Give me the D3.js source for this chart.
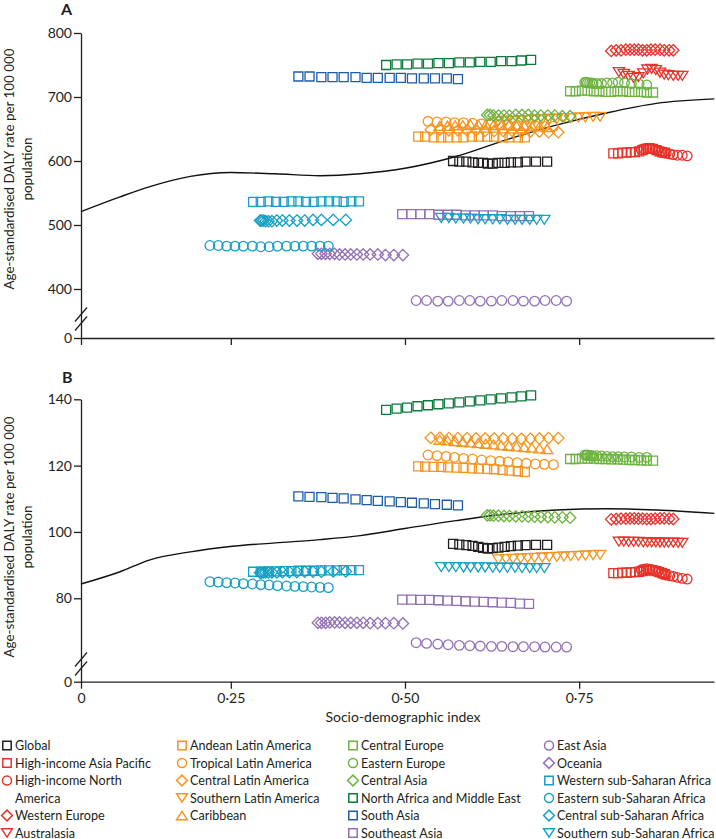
<!DOCTYPE html>
<html>
<head>
<meta charset="utf-8">
<script src="https://cdn.jsdelivr.net/npm/d3@7"></script>
<style>
  html, body { margin: 0; padding: 0; background: #fff; }
  svg { display: block; }
  text { font-family: Lato, "Open Sans", sans-serif; fill: #231f20; }
</style>
</head>
<body>
<svg id="chart" width="716" height="839"></svg>
<script>
// ---------------- DATA ----------------
const regionNames = [
  "Global", "High-income Asia Pacific", "High-income North America", "Western Europe", "Australasia",
  "Andean Latin America", "Tropical Latin America", "Central Latin America", "Southern Latin America", "Caribbean",
  "Central Europe", "Eastern Europe", "Central Asia", "North Africa and Middle East", "South Asia", "Southeast Asia",
  "East Asia", "Oceania", "Western sub-Saharan Africa", "Eastern sub-Saharan Africa", "Central sub-Saharan Africa", "Southern sub-Saharan Africa"
];

// Socio-demographic index per region (one value per plotted year)
const sdiValues = [
  [0.569,0.578,0.588,0.597,0.605,0.612,0.619,0.626,0.634,0.643,0.652,0.662,0.673,0.688,0.704],
  [0.799,0.806,0.812,0.818,0.824,0.830,0.836,0.841,0.846,0.851,0.856,0.861,0.865,0.869,0.873],
  [0.839,0.843,0.847,0.851,0.855,0.859,0.863,0.867,0.871,0.875,0.880,0.885,0.891,0.898,0.905],
  [0.796,0.803,0.810,0.817,0.823,0.829,0.835,0.841,0.847,0.853,0.859,0.866,0.872,0.879,0.885],
  [0.807,0.814,0.821,0.828,0.835,0.842,0.848,0.854,0.860,0.866,0.872,0.878,0.885,0.892,0.898],
  [0.519,0.529,0.541,0.552,0.562,0.574,0.584,0.596,0.606,0.618,0.628,0.640,0.650,0.662,0.672],
  [0.533,0.546,0.559,0.571,0.584,0.597,0.610,0.623,0.636,0.648,0.661,0.674,0.687,0.700,0.713],
  [0.537,0.550,0.563,0.576,0.589,0.602,0.615,0.628,0.641,0.654,0.667,0.680,0.693,0.706,0.720],
  [0.634,0.645,0.655,0.666,0.676,0.686,0.697,0.707,0.718,0.728,0.738,0.749,0.759,0.770,0.780],
  [0.550,0.561,0.572,0.583,0.594,0.605,0.616,0.627,0.638,0.649,0.660,0.671,0.682,0.693,0.704],
  [0.737,0.745,0.754,0.762,0.771,0.779,0.788,0.796,0.805,0.813,0.822,0.830,0.839,0.847,0.856],
  [0.770,0.765,0.760,0.758,0.762,0.768,0.775,0.782,0.790,0.798,0.806,0.815,0.825,0.836,0.847],
  [0.618,0.622,0.627,0.634,0.642,0.650,0.659,0.668,0.677,0.686,0.695,0.705,0.715,0.726,0.737],
  [0.473,0.488,0.503,0.518,0.533,0.548,0.563,0.578,0.593,0.608,0.623,0.638,0.653,0.667,0.681],
  [0.347,0.363,0.380,0.396,0.412,0.429,0.445,0.461,0.478,0.494,0.510,0.527,0.543,0.560,0.576],
  [0.496,0.509,0.522,0.535,0.548,0.561,0.574,0.587,0.600,0.613,0.626,0.639,0.652,0.665,0.678],
  [0.516,0.531,0.547,0.562,0.578,0.593,0.608,0.624,0.639,0.655,0.670,0.686,0.701,0.717,0.732],
  [0.375,0.380,0.386,0.392,0.399,0.406,0.414,0.422,0.431,0.440,0.450,0.461,0.472,0.484,0.497],
  [0.282,0.293,0.304,0.315,0.326,0.337,0.347,0.358,0.369,0.380,0.391,0.402,0.412,0.423,0.434],
  [0.220,0.232,0.244,0.256,0.268,0.281,0.293,0.305,0.317,0.330,0.342,0.354,0.366,0.378,0.390],
  [0.292,0.294,0.297,0.300,0.304,0.309,0.316,0.324,0.334,0.345,0.356,0.368,0.380,0.397,0.415],
  [0.552,0.563,0.573,0.584,0.594,0.605,0.615,0.626,0.636,0.647,0.658,0.668,0.679,0.689,0.700]
];

// Panel A: age-standardised DALY rate per 100 000
const dalyRateA = [
  [600,599,599,598,597,597,596,596,597,597,598,598,599,599,599],
  [612,612,613,613,614,614,615,617,619,620,619,617,615,614,613],
  [618,619,620,620,619,618,616,614,613,612,611,610,609,609,608],
  [772,773,773,774,774,774,774,773,773,774,774,774,773,773,773],
  [739,736,733,730,731,737,743,744,742,738,735,734,733,733,733],
  [638,638,637,637,637,637,637,638,638,638,638,637,637,637,637],
  [662,661,661,660,660,659,658,657,657,656,656,655,655,654,654],
  [649,649,648,648,648,648,647,647,647,647,646,646,646,645,645],
  [662,663,663,664,664,665,665,666,666,667,667,668,668,669,669],
  [655,655,656,656,657,657,657,656,656,656,655,655,654,654,653],
  [709,709,710,710,709,709,708,708,709,709,708,708,708,707,707],
  [721,722,723,723,722,722,721,721,722,722,723,722,721,720,719],
  [672,672,671,671,671,671,672,672,672,671,671,671,671,670,670],
  [750,751,751,752,752,753,753,754,754,755,755,756,756,757,758],
  [732,732,731,731,731,731,730,730,730,730,729,729,729,729,728],
  [517,517,517,517,516,516,516,515,515,515,515,514,514,514,514],
  [382,382,381,381,382,382,381,381,382,382,381,381,382,382,381],
  [455,455,455,455,455,454,454,454,454,454,454,454,453,453,453],
  [536,536,537,536,536,537,537,536,536,537,537,537,536,537,537],
  [468,468,467,467,467,467,466,466,467,467,467,467,467,467,467],
  [507,507,507,506,506,506,507,507,507,507,507,508,508,508,508],
  [511,511,510,510,510,509,509,509,509,508,508,508,508,508,508]
];

// Panel B: age-standardised DALY rate per 100 000
const dalyRateB = [
  [96.4,96.2,96.0,95.8,95.5,95.2,95.0,95.1,95.3,95.5,95.7,95.9,96.0,96.1,96.1],
  [87.6,87.6,87.7,87.7,87.8,87.9,88.0,88.2,88.4,88.5,88.4,88.2,87.9,87.6,87.3],
  [88.6,88.8,88.9,88.8,88.6,88.3,88.0,87.6,87.2,87.0,86.8,86.6,86.3,86.0,85.8],
  [103.8,103.9,104.0,104.0,104.1,104.1,104.0,104.0,103.9,103.9,104.0,104.1,104.1,104.0,103.9],
  [97.1,97.1,97.0,97.0,97.0,96.9,96.9,96.9,96.9,96.8,96.8,96.8,96.8,96.7,96.7],
  [119.8,119.7,119.6,119.6,119.5,119.4,119.3,119.2,119.1,119.0,118.9,118.7,118.5,118.3,118.1],
  [123.2,123.0,122.8,122.5,122.2,122.0,121.7,121.5,121.3,121.1,120.9,120.7,120.5,120.4,120.3],
  [128.4,128.4,128.3,128.3,128.3,128.2,128.2,128.2,128.2,128.1,128.1,128.1,128.2,128.3,128.3],
  [91.7,91.8,91.9,92.0,92.1,92.2,92.3,92.4,92.5,92.6,92.7,92.8,92.9,93.0,93.1],
  [127.8,127.6,127.4,127.2,127.0,126.8,126.6,126.4,126.2,126.0,125.8,125.6,125.4,125.2,125.0],
  [122.0,122.0,122.1,122.1,122.1,122.0,122.0,121.9,121.9,121.8,121.7,121.7,121.6,121.5,121.5],
  [122.8,123.0,123.1,123.2,123.2,123.1,123.0,122.9,122.8,122.7,122.7,122.6,122.6,122.5,122.5],
  [105.0,105.0,104.9,104.9,104.8,104.8,104.7,104.7,104.6,104.6,104.5,104.5,104.4,104.4,104.3],
  [136.8,137.2,137.5,137.9,138.2,138.5,138.8,139.1,139.4,139.7,140.0,140.3,140.6,140.9,141.2],
  [110.7,110.6,110.5,110.3,110.1,109.8,109.6,109.4,109.2,109.0,108.8,108.6,108.4,108.2,108.0],
  [79.6,79.6,79.5,79.5,79.4,79.3,79.2,79.1,79.0,78.9,78.8,78.7,78.6,78.4,78.3],
  [66.6,66.4,66.2,66.0,65.8,65.7,65.6,65.5,65.5,65.4,65.4,65.4,65.3,65.3,65.3],
  [72.6,72.6,72.6,72.7,72.7,72.7,72.6,72.6,72.6,72.6,72.5,72.5,72.5,72.5,72.4],
  [88.0,88.0,88.1,88.1,88.2,88.2,88.3,88.3,88.3,88.4,88.4,88.4,88.5,88.5,88.5],
  [85.0,84.9,84.7,84.6,84.4,84.3,84.1,84.0,83.8,83.7,83.6,83.5,83.4,83.3,83.2],
  [87.7,87.7,87.7,87.8,87.8,87.8,87.8,87.9,87.9,87.9,88.0,88.0,88.0,88.1,88.1],
  [89.4,89.4,89.4,89.3,89.3,89.3,89.3,89.2,89.2,89.2,89.2,89.1,89.1,89.1,89.1]
];

// Expected values by SDI (black curves)
const curveSdi = [0.035,0.091,0.134,0.192,0.249,0.314,0.378,0.436,0.502,0.573,0.645,0.717,0.789,0.861,0.944];
const curveA   = [521,544,560,576,582,580,577,580,589,607,633,656,675,690,697];
const curveB   = [84.3,88.0,91.6,94.0,95.6,96.7,97.7,98.9,101.1,103.4,105.4,106.6,107.0,106.6,105.6];

const yTicksA = [0, 400, 500, 600, 700, 800];
const yTicksB = [0, 80, 100, 120, 140];
const xTicks = [0.035, 0.25, 0.5, 0.75];
const xTickLabels = ["0", "0·25", "0·50", "0·75"];

// ---------------- STYLE ----------------
const C = { black:"#231f20", red:"#e8322a", orange:"#f7941d", lgreen:"#6cb33f",
            dgreen:"#0b7a3b", blue:"#1d5ca8", purple:"#9270b5", teal:"#15a0c6" };
const regionColor = [C.black, C.red, C.red, C.red, C.red,
  C.orange, C.orange, C.orange, C.orange, C.orange,
  C.lgreen, C.lgreen, C.lgreen, C.dgreen, C.blue, C.purple,
  C.purple, C.purple, C.teal, C.teal, C.teal, C.teal];
const regionShape = ["square","square","circle","diamond","tdown",
  "square","circle","diamond","tdown","tup",
  "square","circle","diamond","square","square","square",
  "circle","diamond","square","circle","diamond","tdown"];

const shapeTypes = {
  square: { draw(ctx, s) { const h = s/2; ctx.rect(-h, -h, s, s); } },
  circle: { draw(ctx, s) { const r = s/2 + 0.3; ctx.moveTo(r, 0); ctx.arc(0, 0, r, 0, 2*Math.PI); } },
  diamond:{ draw(ctx, s) { const d = s/2 + 1.2; ctx.moveTo(0,-d); ctx.lineTo(d,0); ctx.lineTo(0,d); ctx.lineTo(-d,0); ctx.closePath(); } },
  tdown:  { draw(ctx, s) { const w = s/2 + 1.2, h = s/2; ctx.moveTo(-w,-h); ctx.lineTo(w,-h); ctx.lineTo(0,h); ctx.closePath(); } },
  tup:    { draw(ctx, s) { const w = s/2 + 1.2, h = s/2; ctx.moveTo(-w,h); ctx.lineTo(w,h); ctx.lineTo(0,-h); ctx.closePath(); } }
};
const markerSize = 9;
const legendMarkerSize = 8.4;

const svg = d3.select("#chart");
const x = d3.scaleLinear().domain([0.035, 0.9435]).range([81, 714]);

function drawPanel(cfg) {
  const g = svg.append("g");
  const y = cfg.y;
  const xAxisY = y(0);

  // curve
  const pts = curveSdi.map((s, i) => [s, cfg.curve[i]]);
  g.append("path").datum(pts)
    .attr("fill", "none").attr("stroke", "#111").attr("stroke-width", 1.4)
    .attr("d", d3.line().x(d => x(d[0])).y(d => y(d[1])).curve(d3.curveMonotoneX));

  // markers
  regionNames.forEach((name, r) => {
    const pts = sdiValues[r].map((s, i) => [s, cfg.values[r][i]]);
    g.append("g").selectAll("path").data(pts).join("path")
      .attr("transform", d => `translate(${x(d[0])},${y(d[1])})`)
      .attr("d", d3.symbol().type(shapeTypes[regionShape[r]]).size(markerSize))
      .attr("fill", "none").attr("stroke", regionColor[r]).attr("stroke-width", 1.3);
  });

  // y axis
  const ya = g.append("g").attr("transform", "translate(81,0)")
    .call(d3.axisLeft(y).tickValues(cfg.yTicks).tickSize(7).tickSizeOuter(0).tickPadding(2).tickFormat(d3.format("d")));
  // x axis
  const xa = g.append("g").attr("transform", `translate(0,${xAxisY})`)
    .call(d3.axisBottom(x).tickValues(xTicks).tickSize(7).tickSizeOuter(0).tickPadding(4)
      .tickFormat((d, i) => cfg.xLabels ? xTickLabels[i] : ""));
  [ya, xa].forEach(a => {
    a.select(".domain").attr("stroke", "#231f20").attr("stroke-width", 1.3);
    a.selectAll(".tick line").attr("stroke", "#231f20").attr("stroke-width", 1.3);
    a.selectAll(".tick text").attr("font-size", 14).attr("font-family", "Lato, 'Open Sans', sans-serif").attr("fill", "#231f20");
  });

  // axis break marks
  const bY = cfg.breakY;
  [-4.5, 4.5].forEach(off => {
    g.append("line")
      .attr("x1", 75).attr("y1", bY + off + 7)
      .attr("x2", 87).attr("y2", bY + off - 7)
      .attr("stroke", "#231f20").attr("stroke-width", 1.3);
  });

  // panel letter
  g.append("text").attr("x", cfg.letterX).attr("y", cfg.letterY)
    .attr("font-size", 16).attr("font-weight", "bold").text(cfg.letter);

  // y title
  const t = g.append("text").attr("transform", `translate(0,${cfg.titleY}) rotate(-90)`)
    .attr("text-anchor", "middle").attr("font-size", 13.4);
  t.append("tspan").attr("x", 0).attr("y", 13.5).text("Age-standardised DALY rate per 100 000");
  t.append("tspan").attr("x", 0).attr("y", 31.5).text("population");
}

drawPanel({
  y: d3.scaleLinear().domain([0, 350, 800]).range([338, 321, 33]),
  values: dalyRateA, curve: curveA, yTicks: yTicksA, xLabels: false,
  breakY: 319, letter: "A", letterX: 61, letterY: 15, titleY: 169
});
drawPanel({
  y: d3.scaleLinear().domain([0, 60, 140]).range([681.7, 664.6, 399.3]),
  values: dalyRateB, curve: curveB, yTicks: yTicksB, xLabels: true,
  breakY: 664, letter: "B", letterX: 62, letterY: 383, titleY: 537
});

// x title
svg.append("text").attr("x", 403).attr("y", 722).attr("text-anchor", "middle")
  .attr("font-size", 14).text("Socio-demographic index");

// legend
const colX = [7, 182, 353, 549];
const colOf = r => r < 5 ? 0 : r < 10 ? 1 : r < 16 ? 2 : 3;
const rowCursor = [0, 0, 0, 0];
const legY0 = 745.5, legStep = 17.5;
const leg = svg.append("g");
regionNames.forEach((name, r) => {
  const c = colOf(r);
  const cy = legY0 + rowCursor[c] * legStep;
  leg.append("path").attr("transform", `translate(${colX[c]},${cy})`)
    .attr("d", d3.symbol().type(shapeTypes[regionShape[r]]).size(legendMarkerSize))
    .attr("fill", "none").attr("stroke", regionColor[r]).attr("stroke-width", 1.5);
  const lines = (name === "High-income North America") ? ["High-income North", "America"] : [name];
  const txt = leg.append("text").attr("font-size", 12.6);
  lines.forEach((ln, k) => {
    txt.append("tspan").attr("x", colX[c] + 8).attr("y", cy + 4.5 + k * legStep).text(ln);
  });
  rowCursor[c] += lines.length;
});
</script>
</body>
</html>
